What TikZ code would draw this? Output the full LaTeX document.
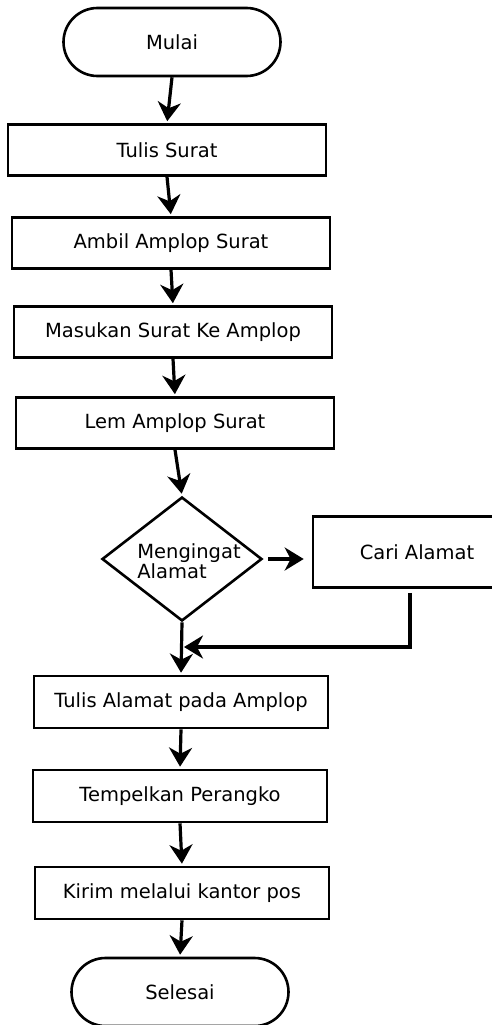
\documentclass[tikz,border=0pt]{standalone}
\usepackage{fontspec}
\setmainfont{DejaVu Sans}
\usetikzlibrary{shapes.geometric,arrows.meta}

\begin{document}
\begin{tikzpicture}
  [x=1pt,y=-1pt,font=\fontsize{19.5}{20}\selectfont,
  every node/.style={rectangle,draw,line width=2.6pt,inner sep=0pt},
  box/.style={minimum width=318pt,minimum height=51pt},
  wbox/.style={minimum width=294pt,minimum height=52pt},
  ends/.style={rounded corners=34pt,minimum width=217pt,minimum height=68pt},
  arr/.style={line width=3.2pt,-{Stealth[length=19pt,width=23pt,inset=6pt]},shorten >=2pt}]
  \useasboundingbox (0,0) rectangle (492,1025);
  \node[ends] (n1) at (172,42) {Mulai};
  \node[box] (n2) at (167,150) {Tulis Surat};
  \node[box] (n3) at (171,243) {Ambil Amplop Surat};
  \node[box] (n4) at (173,332) {Masukan Surat Ke Amplop};
  \node[box] (n5) at (175,423) {Lem Amplop Surat};
  \node[diamond,minimum width=160pt,minimum height=124pt] (n6) at (182,559) {};
  \node[draw=none,align=left] (l1) at (189,561) {Mengingat\\Alamat};
  \node[minimum width=208pt,minimum height=71pt] (n7) at (417,552) {Cari Alamat};
  \node[wbox] (n8) at (181,702) {Tulis Alamat pada Amplop};
  \node[wbox] (n9) at (180,796) {Tempelkan Perangko};
  \node[wbox] (n10) at (182,893) {Kirim melalui kantor pos};
  \node[ends] (n11) at (180,992) {Selesai};
  \coordinate (m1) at (184,647);

\draw[arr] (n1.south) -- (n2.north);
\draw[arr] (n2.south) -- (n3.north);
\draw[arr] (n3.south) -- (n4.north);
\draw[arr] (n4.south) -- (n5.north);
\draw[arr] (n5.south) -- (n6.north);
\draw[arr,shorten <=5pt,shorten >=8pt] (n6.east) -- (n6.east -| n7.west);
\draw[arr,shorten <=4pt,shorten >=0pt] ([xshift=-7pt]n7.south) |- (m1);
\draw[arr] (n6.south) -- (n8.north);
\draw[arr] (n8.south) -- (n9.north);
\draw[arr] (n9.south) -- (n10.north);
\draw[arr] (n10.south) -- (n11.north);

\end{tikzpicture}
\end{document}
